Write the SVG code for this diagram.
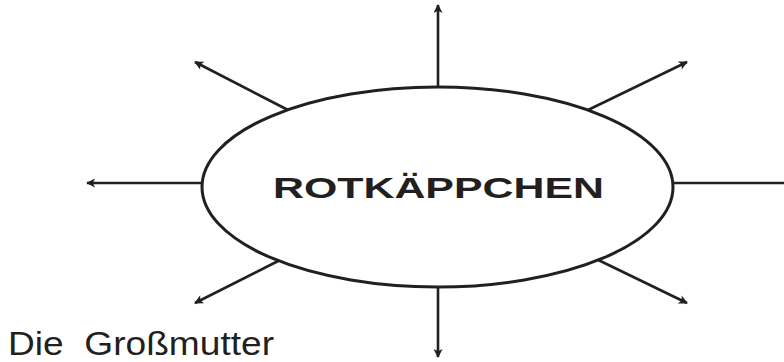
<svg xmlns="http://www.w3.org/2000/svg" width="784" height="362" viewBox="0 0 784 362">
  <style>
    .conn { stroke: #231f20; stroke-width: 2.6; fill: none; }
    .node { stroke: #231f20; stroke-width: 3; fill: #ffffff; }
    .title { font-family: "Liberation Sans", Arial, sans-serif; font-weight: bold; font-size: 30px; fill: #231f20; }
    .label { font-family: "Liberation Sans", Arial, sans-serif; font-size: 33px; fill: #231f20; }
  </style>
  <defs>
    <marker id="arrow" markerUnits="userSpaceOnUse" viewBox="0 0 10 10" refX="9" refY="5" markerWidth="10" markerHeight="9" orient="auto">
      <path d="M0,0 L10,5 L0,10 L2.5,5 Z" fill="#231f20"/>
    </marker>
  </defs>
  <rect width="784" height="362" fill="#ffffff"/>
  <g id="connectors">
    <line class="conn" x1="438" y1="87" x2="438" y2="5" marker-end="url(#arrow)"/>
    <line class="conn" x1="438" y1="287" x2="438" y2="357" marker-end="url(#arrow)"/>
    <line class="conn" x1="202" y1="183" x2="87" y2="183" marker-end="url(#arrow)"/>
    <line class="conn" x1="673" y1="183" x2="796" y2="183" marker-end="url(#arrow)"/>
    <line class="conn" x1="288" y1="110" x2="195" y2="62" marker-end="url(#arrow)"/>
    <line class="conn" x1="588" y1="110" x2="687" y2="62" marker-end="url(#arrow)"/>
    <line class="conn" x1="288" y1="256" x2="195" y2="303" marker-end="url(#arrow)"/>
    <line class="conn" x1="590" y1="256" x2="687" y2="303" marker-end="url(#arrow)"/>
  </g>
  <g id="node-rotkaeppchen">
    <ellipse class="node" cx="437.5" cy="187" rx="235.5" ry="100"/>
    <text class="title" x="273" y="198" textLength="331" lengthAdjust="spacingAndGlyphs">ROTKÄPPCHEN</text>
  </g>
  <g id="node-grossmutter">
    <text class="label" x="8" y="355" xml:space="preserve" textLength="266" lengthAdjust="spacingAndGlyphs">Die  Großmutter</text>
  </g>
</svg>
